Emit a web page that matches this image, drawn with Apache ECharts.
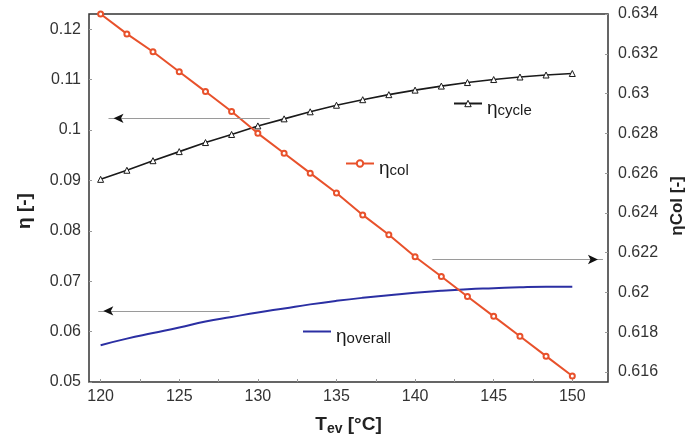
<!DOCTYPE html>
<html>
<head>
<meta charset="utf-8">
<script src="https://cdn.jsdelivr.net/npm/echarts@6/dist/echarts.min.js"></script>
<style>
  html, body { margin: 0; padding: 0; background: #fff; }
  #main { width: 698px; height: 444px; }
</style>
</head>
<body>
<div id="main"></div>
<script>
// evaporation temperature, degC
const temps = [120, 121.67, 123.33, 125, 126.67, 128.33, 130, 131.67, 133.33, 135,
  136.67, 138.33, 140, 141.67, 143.33, 145, 146.67, 148.33, 150]
// cycle efficiency (left axis)
const etaCycle = [0.0902, 0.0920, 0.0939, 0.0957, 0.0975, 0.0991, 0.1008, 0.1022, 0.1036, 0.1049,
  0.1060, 0.1070, 0.1079, 0.1087, 0.1094, 0.1100, 0.1105, 0.1109, 0.1112]
// overall efficiency (left axis)
const etaOverall = [0.0573, 0.0586, 0.0597, 0.0608, 0.0620, 0.0629, 0.0638, 0.0646, 0.0654, 0.0661,
  0.0667, 0.0672, 0.0677, 0.0681, 0.0684, 0.0686, 0.0688, 0.0689, 0.0689]
// collector efficiency (right axis)
const etaCol = [0.6340, 0.6330, 0.6321, 0.6311, 0.6301, 0.6291, 0.6280, 0.6270, 0.6260, 0.6250,
  0.6239, 0.6229, 0.6218, 0.6208, 0.6198, 0.6188, 0.6178, 0.6168, 0.6158]

const xTicks = [120, 125, 130, 135, 140, 145, 150]
const xMinorTicks = [120, 122.5, 125, 127.5, 130, 132.5, 135, 137.5, 140, 142.5, 145, 147.5, 150]
const leftTicks = [0.05, 0.06, 0.07, 0.08, 0.09, 0.1, 0.11, 0.12]
const rightTicks = [0.616, 0.618, 0.62, 0.622, 0.624, 0.626, 0.628, 0.63, 0.632, 0.634]

// guide arrows: [x from, x to, y (left axis)]
const arrowLines = [
  [130.76, 120.5, 0.1023],
  [128.2, 119.85, 0.0641],
  [141.1, 151.95, 0.0743]
]

const FONT = 'Liberation Sans, Arial, sans-serif'

const pairs = (ys) => temps.map((t, i) => [t, ys[i]])

const chart = echarts.init(document.getElementById('main'))

// one small legend per curve, placed next to it like the labels in the figure
const rich = {
  g: { fontSize: 19, fontFamily: FONT, color: '#1a1a1a', verticalAlign: 'bottom' },
  s: { fontSize: 15, fontFamily: FONT, color: '#1a1a1a', verticalAlign: 'bottom' }
}
const legendAt = (name, left, top, extra) => Object.assign({
  data: [name],
  left: left,
  top: top,
  padding: 0,
  itemWidth: 28,
  itemHeight: 8,
  selectedMode: false,
  formatter: (n) => '{g|η}{s|' + n.slice(1) + '}',
  textStyle: { padding: [10, 0, 0, 0], rich }
}, extra || {})

const option = {
  animation: false,
  backgroundColor: '#fff',
  grid: {
    left: 89, right: 90, top: 14, bottom: 62,
    show: true, borderColor: '#333', borderWidth: 1.5
  },
  legend: [
    legendAt('ηcycle', 453, 99, { itemStyle: { color: '#fff', borderColor: '#1a1a1a', borderWidth: 1 } }),
    legendAt('ηcol', 345, 159),
    legendAt('ηoverall', 302, 327, { itemStyle: { opacity: 0 } })
  ],
  xAxis: {
    type: 'value',
    min: 119.26,
    max: 152.27,
    axisLine: { show: false },
    splitLine: { show: false },
    axisTick: { show: true, inside: true, length: 3, customValues: xMinorTicks, lineStyle: { color: '#999' } },
    axisLabel: { customValues: xTicks, fontSize: 16, fontFamily: FONT, color: '#333', margin: 7 },
    name: '{t|T}{sub|ev}{t| [°C]}',
    nameLocation: 'middle',
    nameGap: 32,
    nameTextStyle: {
      rich: {
        t: { fontSize: 19, fontWeight: 'bold', fontFamily: FONT, color: '#222' },
        sub: { fontSize: 14, fontWeight: 'bold', fontFamily: FONT, color: '#222', padding: [8, 0, 0, 0] }
      }
    }
  },
  yAxis: [
    {
      type: 'value',
      min: 0.05,
      max: 0.123,
      axisLine: { show: false },
      splitLine: { show: false },
      axisTick: { show: true, inside: true, length: 3, customValues: leftTicks, lineStyle: { color: '#999' } },
      axisLabel: { customValues: leftTicks, fontSize: 16, fontFamily: FONT, color: '#333', margin: 8 },
      name: 'η [-]',
      nameLocation: 'middle',
      nameGap: 55,
      nameTextStyle: { fontSize: 19, fontWeight: 'bold', fontFamily: FONT, color: '#222', padding: [0, 26, 0, 0] }
    },
    {
      type: 'value',
      position: 'right',
      min: 0.6155,
      max: 0.634,
      axisLine: { show: false },
      splitLine: { show: false },
      axisTick: { show: true, inside: true, length: 3, customValues: rightTicks, lineStyle: { color: '#999' } },
      axisLabel: { customValues: rightTicks, fontSize: 16, fontFamily: FONT, color: '#333', margin: 10 },
      name: 'ηCol [-]',
      nameLocation: 'middle',
      nameGap: 56,
      nameTextStyle: { fontSize: 17, fontWeight: 'bold', fontFamily: FONT, color: '#222', padding: [0, 16, 0, 0] }
    }
  ],
  series: [
    {
      name: 'ηcycle',
      type: 'line',
      data: pairs(etaCycle),
      symbol: 'triangle',
      symbolSize: 6,
      lineStyle: { color: '#1a1a1a', width: 1.6 },
      itemStyle: { color: '#fff', borderColor: '#1a1a1a', borderWidth: 1 },
      z: 3,
      markLine: {
        silent: true,
        symbol: 'none',
        label: { show: false },
        lineStyle: { color: '#9a9a9a', width: 1, type: 'solid' },
        data: arrowLines.map((a) => [{ coord: [a[0], a[2]] }, { coord: [a[1], a[2]] }])
      },
      markPoint: {
        silent: true,
        label: { show: false },
        itemStyle: { color: '#111', borderWidth: 0 },
        symbol: 'arrow',
        symbolSize: [7, 10],
        data: arrowLines.map((a) => ({
          coord: [a[1] + (a[1] < a[0] ? 0.32 : -0.32), a[2]],
          symbolRotate: a[1] < a[0] ? 90 : -90
        }))
      }
    },
    {
      name: 'ηcol',
      type: 'line',
      yAxisIndex: 1,
      data: pairs(etaCol),
      symbol: 'emptyCircle',
      symbolSize: 5,
      lineStyle: { color: '#e8512b', width: 2 },
      itemStyle: { color: '#e8512b', borderWidth: 1.2 },
      z: 4
    },
    {
      name: 'ηoverall',
      type: 'line',
      data: pairs(etaOverall),
      symbol: 'none',
      smooth: true,
      lineStyle: { color: '#2b2fa3', width: 2 },
      itemStyle: { color: '#2b2fa3' },
      z: 3
    }
  ]
}

chart.setOption(option)
</script>
</body>
</html>
